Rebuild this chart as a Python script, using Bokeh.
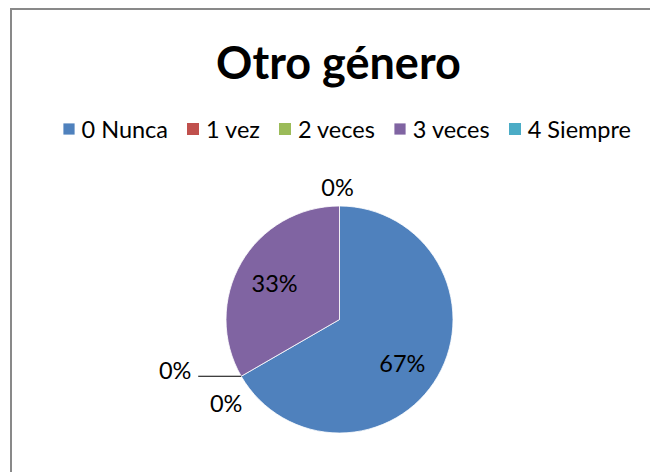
import math
from bokeh.plotting import figure
from bokeh.models import ColumnDataSource, Legend, LegendItem, Range1d
from bokeh.core.properties import value
from bokeh.embed import file_html
from bokeh.resources import INLINE

# ---- data ----
categories = ["0 Nunca", "1 vez", "2 veces", "3 veces", "4 Siempre"]
counts = [2, 0, 0, 1, 0]
colors = ["#4F81BD", "#C0504D", "#9BBB59", "#8064A2", "#4BACC6"]
title_text = "Otro género"

# label placement styles (radial fraction, pixel offsets)
label_rfrac = [0.67, 1.0, 1.0, 0.67, 1.0]
label_dx = [-3, -66, -15, 1, -2]
label_dy = [-5, 6, -27, -2, 19.5]
leader_len = [0, 43, 0, 0, 0]

W, H = 640, 464
MB_TOP, MB_LEFT = 78, 12
FW, FH = W - MB_LEFT, H - MB_TOP

cx, cy = 315, 155  # pie centre (frame pixel units)
R = 113.5

total = sum(counts)
fracs = [c / total for c in counts]
starts, ends, mids, pct = [], [], [], []
cum = 0.0
for f in fracs:
    s = math.pi / 2 - 2 * math.pi * cum
    cum += f
    e = math.pi / 2 - 2 * math.pi * cum
    starts.append(s)
    ends.append(e)
    mids.append((s + e) / 2)
    pct.append(f"{round(f * 100):d}%")

p = figure(width=W, height=H, output_backend="svg", toolbar_location=None,
           x_range=Range1d(0, FW), y_range=Range1d(0, FH),
           min_border=0, min_border_top=MB_TOP, min_border_left=MB_LEFT,
           outline_line_color=None, background_fill_color="white",
           border_fill_color="white")
p.axis.visible = False
p.grid.visible = False
p.styles = {"margin-left": "10px", "margin-top": "8px",
            "border-left": "2px solid #898989", "border-top": "2px solid #898989"}

p.title.text = title_text
p.title.align = "center"
p.title.text_font = "Lato"
p.title.text_font_style = "bold"
p.title.text_font_size = "45px"
p.title.text_color = "black"
p.title.standoff = 0

renderers = []
for i, cat in enumerate(categories):
    src = ColumnDataSource(dict(x=[cx], y=[cy], s=[starts[i]], e=[ends[i]]))
    if counts[i] > 0:
        r = p.wedge(x="x", y="y", radius=R, radius_units="screen", start_angle="s", end_angle="e",
                    direction="clock", fill_color=colors[i], line_color="white", line_width=0.8, source=src)
    else:
        r = p.wedge(x="x", y="y", radius=0, radius_units="screen", start_angle="s", end_angle="s",
                    direction="clock", fill_color=colors[i], line_color=None, source=src)
    renderers.append(r)

# labels
lx, ly = [], []
for i in range(len(categories)):
    d = R * label_rfrac[i]
    lx.append(cx + d * math.cos(mids[i]) + label_dx[i])
    ly.append(cy + d * math.sin(mids[i]) + label_dy[i])
    if leader_len[i]:
        ax = cx + R * math.cos(mids[i])
        ay = cy + R * math.sin(mids[i])
        p.line(x=[ax, ax - leader_len[i]], y=[ay, ay], line_color="black", line_width=1)

p.text(x=lx, y=ly, text=pct, text_font=value("Lato"), text_font_size="23.5px",
       text_align="center", text_baseline="middle", text_color="black")

legend = Legend(items=[LegendItem(label=c, renderers=[renderers[i]]) for i, c in enumerate(categories)],
                orientation="horizontal", location=(36.5, 331.5),
                label_text_font="Lato", label_text_font_size="23.5px", label_text_color="black",
                glyph_width=15, glyph_height=15, label_standoff=6, spacing=17, padding=0,
                border_line_color=None, background_fill_alpha=0, margin=0)
p.add_layout(legend, "center")

html = file_html(p, INLINE)
open("out.html", "w").write(html)
